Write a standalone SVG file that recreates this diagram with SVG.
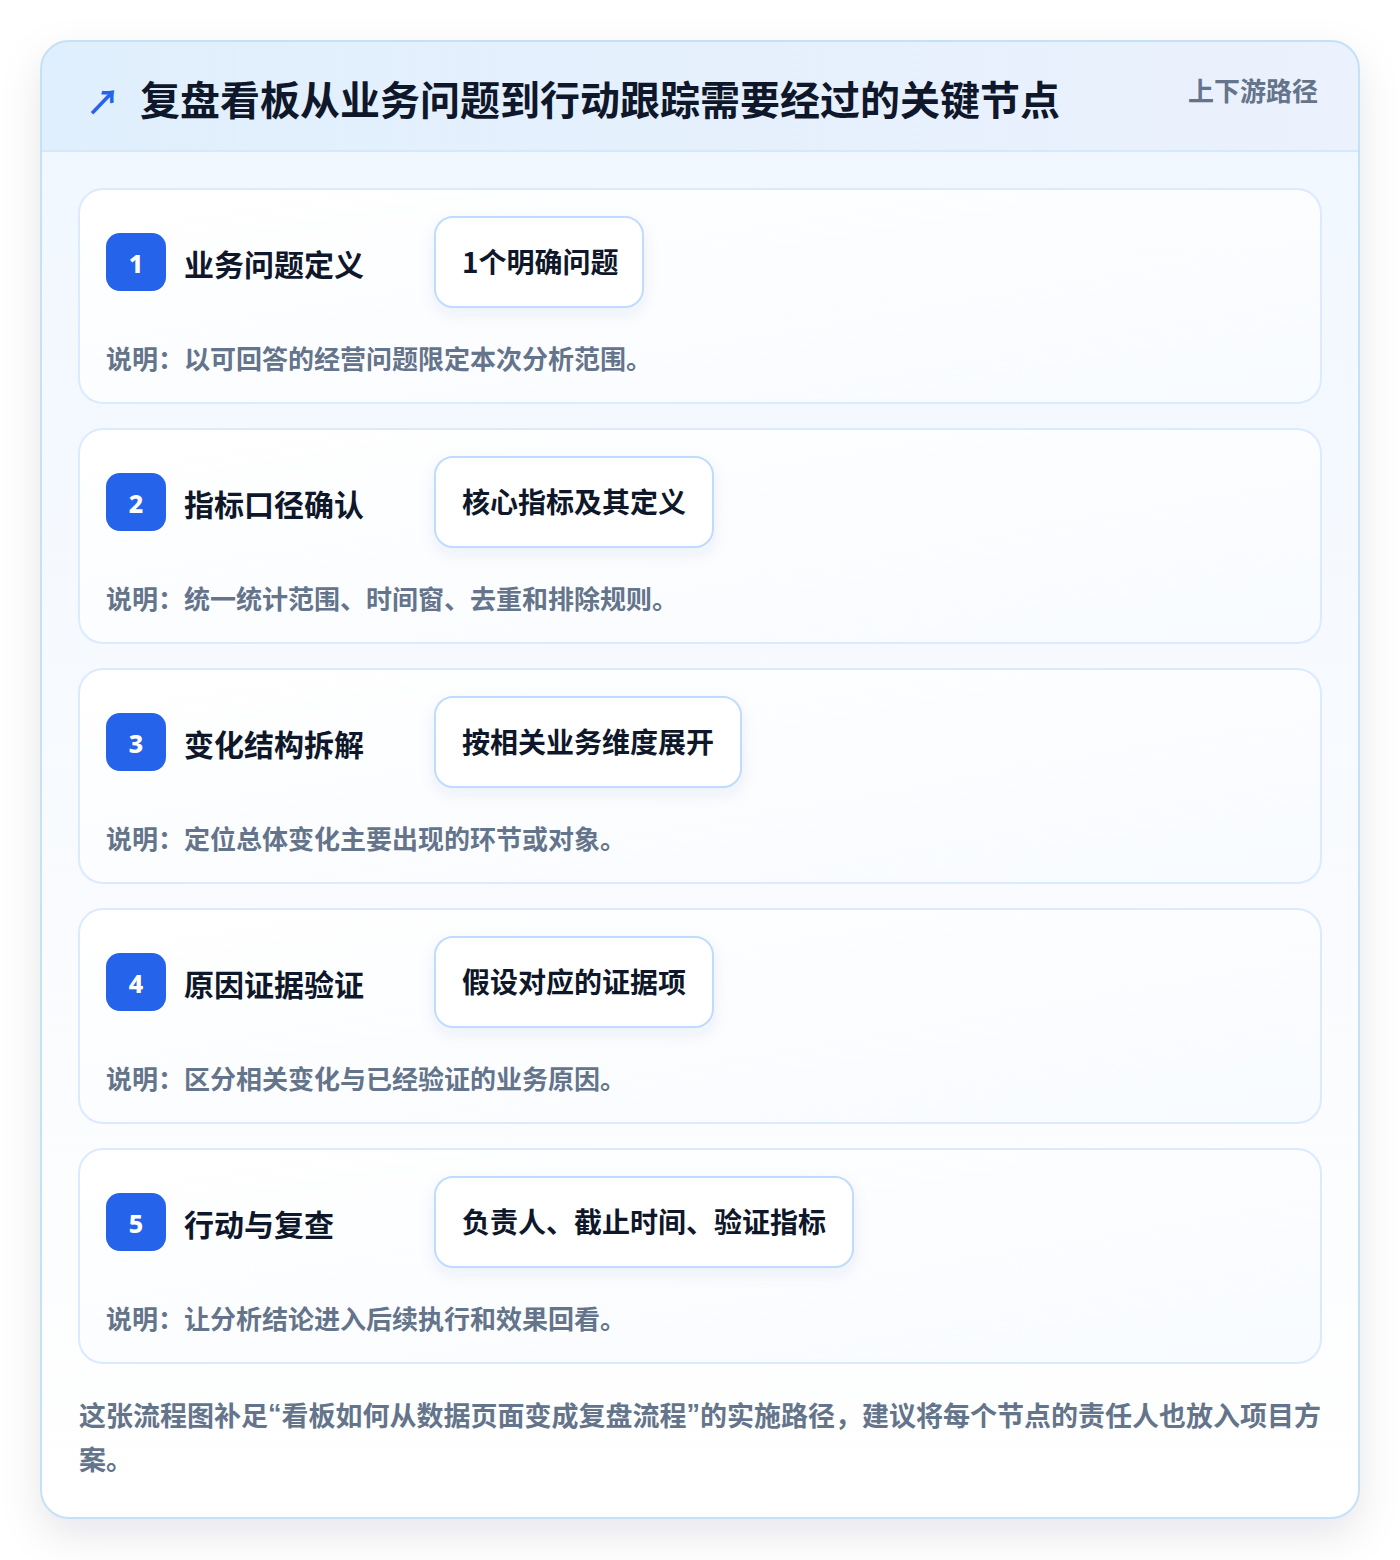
<svg xmlns="http://www.w3.org/2000/svg" width="1400" height="1560" viewBox="0 0 1400 1560">
<defs>
<linearGradient id="hdr" x1="0" y1="0" x2="1" y2="0"><stop offset="0" stop-color="#e0effd"/><stop offset="1" stop-color="#ebf1fd"/></linearGradient>
<linearGradient id="body" x1="0" y1="0" x2="0" y2="1"><stop offset="0" stop-color="#f0f7ff"/><stop offset="0.6" stop-color="#f9fbfe"/><stop offset="1" stop-color="#ffffff"/></linearGradient>
<linearGradient id="cardg" x1="0" y1="0" x2="1" y2="1"><stop offset="0" stop-color="#ffffff"/><stop offset="1" stop-color="#f8fbff"/></linearGradient>
<filter id="sh" x="-10%" y="-10%" width="120%" height="125%"><feDropShadow dx="0" dy="16" stdDeviation="20" flood-color="#0f172a" flood-opacity="0.1"/></filter>
<filter id="csh" x="-20%" y="-30%" width="140%" height="170%"><feDropShadow dx="0" dy="6" stdDeviation="8" flood-color="#1e3a8a" flood-opacity="0.07"/></filter>
<clipPath id="outerClip"><rect x="41" y="41" width="1318" height="1477" rx="28"/></clipPath>
<style>
.cjk{font-family:"Noto Sans CJK SC","Noto Sans",sans-serif;font-weight:700}
.title{font-size:40px;fill:#0f172a}
.tag{font-size:26px;fill:#64748b}
.card{fill:url(#cardg);stroke:#dbeafe;stroke-width:2}
.badge{fill:#2563eb}
.num{font-family:"Noto Sans","Liberation Sans",sans-serif;font-weight:800;font-size:25px;fill:#ffffff}
.stitle{font-size:30px;fill:#0f172a}
.chip{fill:#ffffff;stroke:#bfdbfe;stroke-width:2}
.chipt{font-size:28px;fill:#0f172a}
.desc{font-size:26px;fill:#64748b}
.foot{font-size:27px;fill:#64748b}
.q{font-family:"Liberation Sans",sans-serif}
</style>
</defs>
<rect width="1400" height="1560" fill="#ffffff"/>
<g id="frame">
<rect x="41" y="41" width="1318" height="1477" rx="28" fill="url(#body)" filter="url(#sh)"/>
<g clip-path="url(#outerClip)">
<rect x="41" y="41" width="1318" height="110" fill="url(#hdr)"/>
<line x1="41" y1="151" x2="1359" y2="151" stroke="#d6e8fb" stroke-width="2"/>
</g>
<rect x="41" y="41" width="1318" height="1477" rx="28" fill="none" stroke="#c4e2f7" stroke-width="2"/>
</g>
<g id="header">
<text x="86" y="100" class="cjk" font-size="34" fill="#2563eb" dominant-baseline="central">↗</text>
<text x="140" y="98" class="cjk title" dominant-baseline="central">复盘看板从业务问题到行动跟踪需要经过的关键节点</text>
<text x="1318" y="89" class="cjk tag" text-anchor="end" dominant-baseline="central">上下游路径</text>
</g>
<g id="connectors"></g>
<g id="step1" transform="translate(0,0)">
<rect x="79" y="189" width="1242" height="214" rx="24" class="card"/>
<rect x="106" y="233" width="60" height="58" rx="14" class="badge"/>
<text x="136" y="263" class="num" text-anchor="middle" dominant-baseline="central">1</text>
<text x="184" y="263" class="cjk stitle" dominant-baseline="central">业务问题定义</text>
<rect x="435" y="217" width="208" height="90" rx="18" class="chip" filter="url(#csh)"/>
<text x="462" y="261" class="cjk chipt" dominant-baseline="central">1个明确问题</text>
<text x="106" y="357" class="cjk desc" dominant-baseline="central">说明：以可回答的经营问题限定本次分析范围。</text>
</g>
<g id="step2" transform="translate(0,240)">
<rect x="79" y="189" width="1242" height="214" rx="24" class="card"/>
<rect x="106" y="233" width="60" height="58" rx="14" class="badge"/>
<text x="136" y="263" class="num" text-anchor="middle" dominant-baseline="central">2</text>
<text x="184" y="263" class="cjk stitle" dominant-baseline="central">指标口径确认</text>
<rect x="435" y="217" width="278" height="90" rx="18" class="chip" filter="url(#csh)"/>
<text x="462" y="261" class="cjk chipt" dominant-baseline="central">核心指标及其定义</text>
<text x="106" y="357" class="cjk desc" dominant-baseline="central">说明：统一统计范围、时间窗、去重和排除规则。</text>
</g>
<g id="step3" transform="translate(0,480)">
<rect x="79" y="189" width="1242" height="214" rx="24" class="card"/>
<rect x="106" y="233" width="60" height="58" rx="14" class="badge"/>
<text x="136" y="263" class="num" text-anchor="middle" dominant-baseline="central">3</text>
<text x="184" y="263" class="cjk stitle" dominant-baseline="central">变化结构拆解</text>
<rect x="435" y="217" width="306" height="90" rx="18" class="chip" filter="url(#csh)"/>
<text x="462" y="261" class="cjk chipt" dominant-baseline="central">按相关业务维度展开</text>
<text x="106" y="357" class="cjk desc" dominant-baseline="central">说明：定位总体变化主要出现的环节或对象。</text>
</g>
<g id="step4" transform="translate(0,720)">
<rect x="79" y="189" width="1242" height="214" rx="24" class="card"/>
<rect x="106" y="233" width="60" height="58" rx="14" class="badge"/>
<text x="136" y="263" class="num" text-anchor="middle" dominant-baseline="central">4</text>
<text x="184" y="263" class="cjk stitle" dominant-baseline="central">原因证据验证</text>
<rect x="435" y="217" width="278" height="90" rx="18" class="chip" filter="url(#csh)"/>
<text x="462" y="261" class="cjk chipt" dominant-baseline="central">假设对应的证据项</text>
<text x="106" y="357" class="cjk desc" dominant-baseline="central">说明：区分相关变化与已经验证的业务原因。</text>
</g>
<g id="step5" transform="translate(0,960)">
<rect x="79" y="189" width="1242" height="214" rx="24" class="card"/>
<rect x="106" y="233" width="60" height="58" rx="14" class="badge"/>
<text x="136" y="263" class="num" text-anchor="middle" dominant-baseline="central">5</text>
<text x="184" y="263" class="cjk stitle" dominant-baseline="central">行动与复查</text>
<rect x="435" y="217" width="418" height="90" rx="18" class="chip" filter="url(#csh)"/>
<text x="462" y="261" class="cjk chipt" dominant-baseline="central">负责人、截止时间、验证指标</text>
<text x="106" y="357" class="cjk desc" dominant-baseline="central">说明：让分析结论进入后续执行和效果回看。</text>
</g>
<g id="footer">
<text x="79" y="1414" class="cjk foot" dominant-baseline="central">这张流程图补足<tspan class="q">“</tspan>看板如何从数据页面变成复盘流程<tspan class="q">”</tspan>的实施路径，建议将每个节点的责任人也放入项目方</text>
<text x="79" y="1458" class="cjk foot" dominant-baseline="central">案。</text>
</g>
</svg>
